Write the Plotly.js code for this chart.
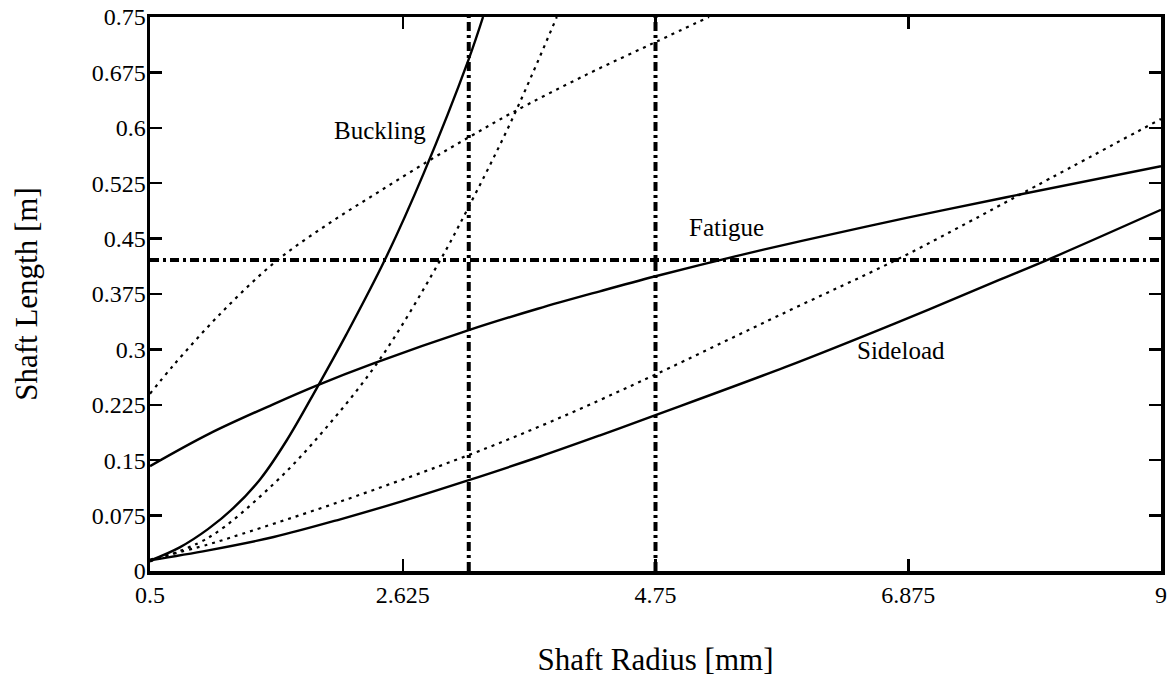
<!DOCTYPE html>
<html>
<head>
<meta charset="utf-8">
<script src="https://cdn.plot.ly/plotly-3.0.1.min.js"></script>
<style>html,body{margin:0;padding:0;background:#fff;}#chart{width:1174px;height:677px;}</style>
</head>
<body>
<div id="chart"></div>
<script>
// Axis ticks
const xTickVals = [0.5, 2.625, 4.75, 6.875, 9];
const xTickText = ["0.5", "2.625", "4.75", "6.875", "9"];
const yTickVals = [0, 0.075, 0.15, 0.225, 0.3, 0.375, 0.45, 0.525, 0.6, 0.675, 0.75];
const yTickText = ["0", "0.075", "0.15", "0.225", "0.3", "0.375", "0.45", "0.525", "0.6", "0.675", "0.75"];

// Fatigue (solid)
const fatigueX = [0.5, 1.0, 1.54, 1.9, 2.38, 3.18, 3.76, 4.29, 4.75, 5.42, 5.98, 6.86, 7.7, 9.0];
const fatigueY = [0.142, 0.186, 0.226, 0.251, 0.281, 0.326, 0.355, 0.379, 0.399, 0.426, 0.447, 0.478, 0.506, 0.548];

// Buckling (solid)
const bucklingX = [0.5, 0.75, 0.99, 1.2, 1.43, 1.65, 1.9, 2.15, 2.48, 2.8, 3.18, 3.3];
const bucklingY = [0.014, 0.032, 0.057, 0.085, 0.125, 0.177, 0.247, 0.32, 0.423, 0.538, 0.693, 0.75];

// Buckling alternative (dotted, steep)
const buckling2X = [0.5, 0.99, 1.54, 1.96, 2.43, 2.92, 3.17, 3.54, 3.92];
const buckling2Y = [0.013, 0.045, 0.118, 0.19, 0.286, 0.415, 0.49, 0.61, 0.75];

// Upper dotted curve (shallow)
const upperDotX = [0.5, 0.7, 1.09, 1.55, 1.99, 2.42, 2.84, 3.19, 3.54, 4.17, 4.75, 5.2];
const upperDotY = [0.24, 0.279, 0.348, 0.418, 0.469, 0.513, 0.555, 0.588, 0.62, 0.672, 0.716, 0.75];

// Sideload (solid)
const sideloadX = [0.5, 0.99, 1.54, 2.1, 2.63, 3.18, 3.78, 4.29, 4.75, 5.84, 6.76, 7.64, 8.1, 9.0];
const sideloadY = [0.0145, 0.028, 0.046, 0.07, 0.095, 0.123, 0.155, 0.184, 0.211, 0.276, 0.335, 0.394, 0.425, 0.489];

// Sideload alternative (dotted)
const sideload2X = [0.5, 0.99, 1.27, 2.1, 3.18, 3.78, 4.29, 4.75, 5.84, 6.76, 7.38, 7.75, 9.0];
const sideload2Y = [0.0155, 0.036, 0.05, 0.094, 0.157, 0.196, 0.232, 0.266, 0.35, 0.42, 0.472, 0.504, 0.612];

// Design limit lines (dash-dot)
const limitRadii = [3.18, 4.75];
const limitLength = 0.421;

// Curve labels
const labelText = ["Buckling", "Fatigue", "Sideload"];
const labelX = [2.43, 5.35, 6.81];
const labelY = [0.597, 0.4645, 0.298];

const FONT = "Liberation Serif, Times New Roman, serif";
const solid = {color: "#000", width: 2.4, shape: "spline", smoothing: 1};
const dotted = {color: "#000", width: 2.2, dash: "3px,5px", shape: "spline", smoothing: 1};
const dashdot = {color: "#000", width: 4, dash: "9px,4px,3px,4px"};

const traces = [
  {x: fatigueX, y: fatigueY, mode: "lines", line: solid, name: "Fatigue"},
  {x: bucklingX, y: bucklingY, mode: "lines", line: solid, name: "Buckling"},
  {x: sideloadX, y: sideloadY, mode: "lines", line: solid, name: "Sideload"},
  {x: buckling2X, y: buckling2Y, mode: "lines", line: dotted, name: "Buckling 2"},
  {x: upperDotX, y: upperDotY, mode: "lines", line: dotted, name: "Upper"},
  {x: sideload2X, y: sideload2Y, mode: "lines", line: dotted, name: "Sideload 2"},
  {x: [xTickVals[0], xTickVals[xTickVals.length - 1]], y: [limitLength, limitLength], mode: "lines", line: dashdot, name: "Length limit"}
];
limitRadii.forEach(function (r) {
  traces.push({x: [r, r], y: [yTickVals[0], yTickVals[yTickVals.length - 1]], mode: "lines", line: dashdot, name: "Radius limit"});
});

const annotations = labelText.map(function (t, i) {
  return {x: labelX[i], y: labelY[i], xref: "x", yref: "y", text: t, showarrow: false,
          font: {family: FONT, size: 25, color: "#000"}};
});

const axisCommon = {
  showline: true, linewidth: 3.5, linecolor: "#000", mirror: "ticks",
  ticks: "inside", ticklen: 12, tickwidth: 2.5, tickcolor: "#000",
  showgrid: false, zeroline: false,
  tickfont: {family: FONT, size: 24, color: "#000"}
};

const layout = {
  width: 1174, height: 677,
  margin: {l: 150, r: 13, t: 17, b: 106},
  paper_bgcolor: "#fff", plot_bgcolor: "#fff",
  showlegend: false,
  font: {family: FONT, color: "#000"},
  xaxis: Object.assign({}, axisCommon, {
    range: [0.5, 9], tickmode: "array", tickvals: xTickVals, ticktext: xTickText,
    title: {text: "Shaft Radius [mm]", font: {family: FONT, size: 31, color: "#000"}, standoff: 42}
  }),
  yaxis: Object.assign({}, axisCommon, {
    range: [0, 0.75], tickmode: "array", tickvals: yTickVals, ticktext: yTickText,
    ticklabelstandoff: -4,
    title: {text: "Shaft Length [m]", font: {family: FONT, size: 31, color: "#000"}, standoff: 46}
  }),
  annotations: annotations
};

Plotly.newPlot("chart", traces, layout, {displayModeBar: false, staticPlot: true});
</script>
</body>
</html>
